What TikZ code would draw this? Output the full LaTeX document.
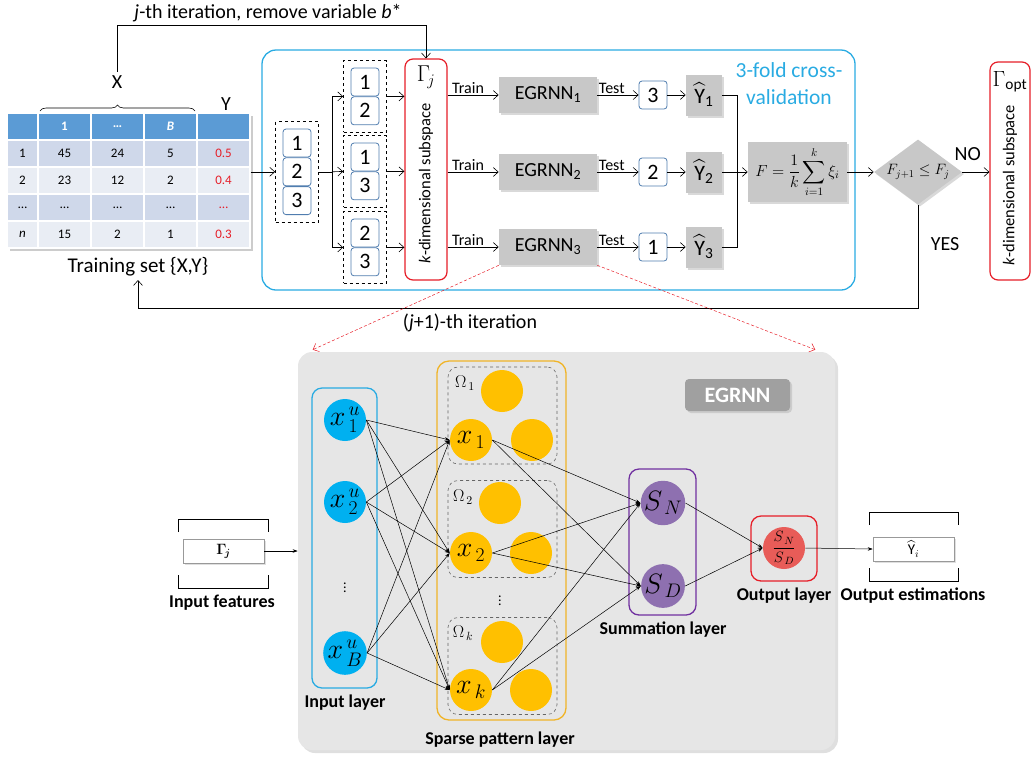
\RequirePackage{fix-cm}
\documentclass[tikz,border=0pt]{standalone}
\usepackage{amsmath}
\usepackage{amssymb}
\usepackage{bm}
\usepackage{fontspec}
\setmainfont{Carlito}
\usepackage{xcolor}
\usepackage{tikz}
\usetikzlibrary{shapes,arrows.meta,positioning,calc,fit,shadows,decorations.pathreplacing}

\definecolor{frameblue}{RGB}{41,171,226}
\definecolor{framered}{RGB}{230,30,40}
\definecolor{boxgray}{RGB}{200,200,200}
\definecolor{panelgray}{RGB}{230,230,230}
\definecolor{badgegray}{RGB}{160,160,160}
\definecolor{foldedge}{RGB}{80,125,175}
\definecolor{headblue}{RGB}{91,155,213}
\definecolor{rowdark}{RGB}{207,216,234}
\definecolor{rowlight}{RGB}{233,237,244}
\definecolor{valred}{RGB}{230,30,40}
\definecolor{nodecyan}{RGB}{0,176,240}
\definecolor{nodeyellow}{RGB}{255,192,0}
\definecolor{yellowedge}{RGB}{240,180,40}
\definecolor{nodepurple}{RGB}{142,112,176}
\definecolor{purpleedge}{RGB}{112,48,160}
\definecolor{nodered}{RGB}{232,92,88}

\newcommand{\fsz}[1]{\fontsize{#1}{#1}\selectfont}

\begin{document}
\begin{tikzpicture}[x=1pt, y=-1pt, >={Straight Barb[length=5pt,width=9pt]}, line width=0.6pt]
        \tikzset{
            tblcell/.style={draw=white, line width=1.2pt, minimum height=27, inner sep=0pt, font=\fsz{13}},
            foldnum/.style={draw=foldedge, fill=white, rounded corners=3pt, minimum width=28, minimum height=28, inner sep=0pt, line width=0.8pt, font=\fsz{22}},
            foldframe/.style={draw, dashed, line width=0.9pt, inner sep=7pt},
            subspace/.style={draw=framered, fill=white, rounded corners=8pt, line width=1.2pt, minimum width=42, minimum height=221},
            graybox/.style={fill=boxgray, inner sep=0pt, drop shadow={shadow xshift=2pt, shadow yshift=-2pt, opacity=0.3}},
            egrnn/.style={graybox, minimum width=98, minimum height=36, font=\fsz{20}},
            yhat/.style={graybox, minimum width=36, minimum height=41, font=\fsz{22}},
            lbl/.style={font=\fsz{16}, inner sep=1pt},
            bigtext/.style={font=\fsz{20}},
            rottext/.style={rotate=90, font=\fsz{16.5}},
            egpanel/.style={fill=panelgray, rounded corners=14pt, minimum width=537, minimum height=398, drop shadow={shadow xshift=3pt, shadow yshift=-3pt, opacity=0.25}},
            layerframe/.style={rounded corners=10pt, line width=1.3pt},
            neuron/.style={circle, minimum size=42, inner sep=0pt, font=\fsz{28}},
            omegabox/.style={draw=black!60, dashed, rounded corners=10pt, line width=0.6pt, minimum width=109, minimum height=97},
            omegalbl/.style={font=\fsz{17}, inner sep=0pt},
            estbox/.style={draw=black!40, fill=white, minimum width=81, minimum height=24, inner sep=0pt, font=\fsz{15}, drop shadow={shadow xshift=1.5pt, shadow yshift=-1.5pt, opacity=0.25}},
            netarrow/.style={-{Stealth[length=5pt,width=3.5pt]}, line width=0.5pt},
            zoomarrow/.style={->, draw=framered, densely dashed, line width=0.5pt},
            layerlbl/.style={font=\bfseries\fsz{18}}
        }
        \useasboundingbox (0,0) rectangle (1032,756);

        % Training table
        \fill[black!20] (10,116) rectangle (253,251);
        \foreach \col/\cx/\cw/\txt in {0/22.5/31/{}, 1/64.5/53/1, 2/117.5/53/\dots, 3/170.5/53/\textit{B}, 4/223.5/53/{}}
            \node[tblcell, fill=headblue, minimum width=\cw, text=white, font=\bfseries\fsz{13}] (th-\col) at (\cx,126.5) {\txt};
        \foreach \rr/\ry/\rc/\va/\vb/\vc/\vd/\ve in {1/153.5/rowdark/1/45/24/5/0.5, 2/180.5/rowlight/2/23/12/2/0.4, 3/207.5/rowdark/\dots/\dots/\dots/\dots/\dots, 4/234.5/rowlight/\textit{n}/15/2/1/0.3} {
            \node[tblcell, fill=\rc, minimum width=31] (t\rr-0) at (22.5,\ry) {\va};
            \node[tblcell, fill=\rc, minimum width=53] (t\rr-1) at (64.5,\ry) {\vb};
            \node[tblcell, fill=\rc, minimum width=53] (t\rr-2) at (117.5,\ry) {\vc};
            \node[tblcell, fill=\rc, minimum width=53] (t\rr-3) at (170.5,\ry) {\vd};
            \node[tblcell, fill=\rc, minimum width=53, text=valred] (t\rr-4) at (223.5,\ry) {\ve};
        }
        \node[bigtext] (itertitle) at (268,13) {\textit{j}-th iteration, remove variable \textit{b}*};
        \node[bigtext] (xlbl) at (117,82) {X};
        \node[bigtext] (ylbl) at (226,104) {Y};
        \draw[decorate, decoration={brace, amplitude=6pt}] (40,111) -- (195,111);
        \node[bigtext, font=\fsz{21}] (trainlbl) at (138,267) {Training set \{X,Y\}};

        % Cross-validation frame
        \node[draw=frameblue, rounded corners=14pt, line width=1.3pt, minimum width=593, minimum height=240] (cvframe) at (558.5,170) {};
        \node[text=frameblue, align=center, font=\fontsize{21.5}{27}\selectfont] (cvlbl) at (789,84) {3-fold cross-\\validation};

        % Folds
        \node[foldnum] (f1) at (297,143) {1};
        \node[foldnum, below=0pt of f1] (f2) {2};
        \node[foldnum, below=0pt of f2] (f3) {3};
        \node[foldframe, fit=(f1)(f3)] (fold) {};

        \node[foldnum] (a1) at (365,82) {1};
        \node[foldnum, below=0pt of a1] (a2) {2};
        \node[foldframe, fit=(a1)(a2)] (foldA) {};
        \node[foldnum] (b1) at (365,157) {1};
        \node[foldnum, below=0pt of b1] (b2) {3};
        \node[foldframe, fit=(b1)(b2)] (foldB) {};
        \node[foldnum] (c1) at (365,233) {2};
        \node[foldnum, below=0pt of c1] (c2) {3};
        \node[foldframe, fit=(c1)(c2)] (foldC) {};

        % Subspace
        \node[subspace] (gammaj) at (426,169.5) {};
        \node[font=\fsz{23}] (gammajlbl) at ($(gammaj.north)+(0,19)$) {$\Gamma_{\!j}$};
        \node[rottext] (gammajtxt) at ($(gammaj.center)+(0,14)$) {\textit{k}-dimensional subspace};

        % Models
        \node[egrnn] (eg1) at (548,95) {EGRNN\textsubscript{1}};
        \node[egrnn] (eg2) at (548,172) {EGRNN\textsubscript{2}};
        \node[egrnn] (eg3) at (548,247) {EGRNN\textsubscript{3}};
        \node[foldnum] (ts1) at (653,95) {3};
        \node[foldnum] (ts2) at (653,172) {2};
        \node[foldnum] (ts3) at (653,247) {1};
        \node[yhat] (yh1) at (704,95) {$\widehat{\text{Y}}_{\text{1}}$};
        \node[yhat] (yh2) at (704,172) {$\widehat{\text{Y}}_{\text{2}}$};
        \node[yhat] (yh3) at (704,247) {$\widehat{\text{Y}}_{\text{3}}$};
        \node[graybox, minimum width=99, minimum height=60, font=\fsz{16}] (fbox) at (797.5,172) {$\displaystyle F=\frac{1}{k}\sum_{i=1}^{k}\xi_i$};
        \node[diamond, fill=boxgray, aspect=1.35, minimum width=88, minimum height=65, inner sep=0pt, font=\fsz{15}, drop shadow={shadow xshift=2pt, shadow yshift=-2pt, opacity=0.3}] (dia) at (918,172) {$F_{j+1}\le F_j$};
        \node[subspace, minimum width=40, minimum height=218] (gopt) at (1010,171) {};
        \node[font=\fsz{22}] (goptlbl) at ($(gopt.north)+(0,20)$) {$\Gamma_{\mathrm{opt}}$};
        \node[rottext] (gopttxt) at ($(gopt.center)+(0,14)$) {\textit{k}-dimensional subspace};

        % Connections
        \draw[->] (xlbl.north) |- (itertitle.south -| gammaj.north) -- (gammaj.north);
        \draw[->] (fold.west -| t1-4.east) -- (fold.west);
        \coordinate[right=13pt of fold.east] (branch);
        \draw (fold.east) -- (branch);
        \draw[->] (branch) |- (foldA.west);
        \draw[->] (branch) -- (foldB.west);
        \draw[->] (branch) |- (foldC.west);
        \draw[->] (foldA.east) -- (foldA.east -| gammaj.west);
        \draw[->] (foldB.east) -- (foldB.east -| gammaj.west);
        \draw[->] (foldC.east) -- (foldC.east -| gammaj.west);

        \draw[->] (gammaj.east |- eg1.west) -- node[lbl, above, pos=0.4] {Train} (eg1.west);
        \draw[->] (gammaj.east |- eg2.west) -- node[lbl, above, pos=0.4] {Train} (eg2.west);
        \draw[->] (gammaj.east |- eg3.west) -- node[lbl, above, pos=0.4] {Train} (eg3.west);
        \draw[->] (eg1.east) -- node[lbl, above, pos=0.35] {Test} (ts1.west);
        \draw[->] (eg2.east) -- node[lbl, above, pos=0.35] {Test} (ts2.west);
        \draw[->] (eg3.east) -- node[lbl, above, pos=0.35] {Test} (ts3.west);
        \draw[->] (ts1.east) -- (yh1.west);
        \draw[->] (ts2.east) -- (yh2.west);
        \draw[->] (ts3.east) -- (yh3.west);

        \coordinate (collect) at (737,172);
        \draw (yh1.east) -| (collect);
        \draw (yh3.east) -| (collect);
        \draw (yh2.east) -- (collect);
        \draw[->] (collect) -- (fbox.west);
        \draw[->] (fbox.east) -- (dia.west);
        \draw[->] (dia.east) -- node[bigtext, above=8pt, pos=0.2] {NO} (dia.east -| gopt.west);
        \coordinate (loopy) at (138,308);
        \draw[->] (dia.south) |- (loopy) -- (trainlbl.south);
        \node[bigtext] (yeslbl) at (945,244) {YES};
        \node[bigtext] (looplbl) at (470,323) {(\textit{j}+1)-th iteration};

        % EGRNN network
        \node[egpanel] (egrnnbox) at (566.5,551) {};
        \node[fill=badgegray, rounded corners=4pt, minimum width=105, minimum height=32, text=white, font=\bfseries\fsz{22}, drop shadow={shadow xshift=2pt, shadow yshift=-2pt, opacity=0.25}] (badge) at (737.5,395) {EGRNN};
        \coordinate (zoomL) at ($(egrnnbox.north west)+(15,-2)$);
        \coordinate (zoomR) at ($(egrnnbox.north east)+(-20,-2)$);
        \draw[zoomarrow] (eg3.south west) -- (zoomL);
        \draw[zoomarrow] (eg3.south east) -- (zoomR);

        % Input features
        \node[estbox] (infeat) at (223.5,551) {$\bm{\Gamma_{\!j}}$};
        \draw (178,532) |- (268,519) -- (268,532);
        \draw (178,575) |- (268,588) -- (268,575);
        \node[layerlbl] (infeatlbl) at (222,603) {Input features};

        % Input layer
        \node[draw=frameblue, layerframe, minimum width=65, minimum height=300] (inlayer) at (344.5,538) {};
        \node[neuron, fill=nodecyan] (u1) at (345,420) {$x^{\,u}_{\,1}$};
        \node[neuron, fill=nodecyan] (u2) at (345,502) {$x^{\,u}_{\,2}$};
        \node[neuron, fill=nodecyan] (uB) at (345,653) {$x^{\,u}_{\,B}$};
        \node[font=\fsz{14}] (udots) at (345,585) {$\vdots$};
        \node[layerlbl] (inlayerlbl) at (345,703) {Input layer};

        % Sparse pattern layer
        \node[draw=yellowedge, layerframe, rounded corners=12pt, minimum width=129, minimum height=359] (patlayer) at (501.5,540.5) {};
        \node[omegabox] (om1) at (502.5,415.5) {};
        \node[omegabox] (om2) at (502.5,529) {};
        \node[omegabox] (omk) at (502.5,666) {};
        \node[neuron, fill=nodeyellow] (o1a) at (502,391) {};
        \node[neuron, fill=nodeyellow] (p1) at (471,440) {$x_{\,1}$};
        \node[neuron, fill=nodeyellow] (o1b) at (532,440) {};
        \node[neuron, fill=nodeyellow] (o2a) at (500,503) {};
        \node[neuron, fill=nodeyellow] (p2) at (471,553) {$x_{\,2}$};
        \node[neuron, fill=nodeyellow] (o2b) at (531,553) {};
        \node[neuron, fill=nodeyellow] (oka) at (502,642) {};
        \node[neuron, fill=nodeyellow] (pk) at (471,690) {$x_{\,k}$};
        \node[neuron, fill=nodeyellow] (okb) at (531,690) {};
        \node[omegalbl] (om1lbl) at (465,383) {$\Omega_{\,1}$};
        \node[omegalbl] (om2lbl) at (463,497) {$\Omega_{\,2}$};
        \node[omegalbl] (omklbl) at (463,633) {$\Omega_{\,k}$};
        \node[font=\fsz{14}] (pdots) at (500,598) {$\vdots$};
        \node[layerlbl] (patlbl) at (500,740) {Sparse pattern layer};

        % Summation and output layers
        \node[draw=purpleedge, layerframe, minimum width=67, minimum height=146] (sumlayer) at (662.5,542) {};
        \node[neuron, fill=nodepurple] (sn) at (663,503) {$S_{\,N}$};
        \node[neuron, fill=nodepurple] (sd) at (663,586) {$S_{\,D}$};
        \node[layerlbl] (sumlbl) at (663,630) {Summation layer};
        \node[draw=framered, layerframe, minimum width=66, minimum height=65] (outlayer) at (784,548.5) {};
        \node[neuron, fill=nodered, font=\fsz{15}] (outn) at (784,548) {$\dfrac{S_{\,N}}{S_{\,D}}$};
        \node[layerlbl] (outlbl) at (784,596) {Output layer};

        % Output estimations
        \node[estbox] (outest) at (913.5,549) {$\widehat{\text{Y}}_i$};
        \draw (869,525) |- (958,512) -- (958,525);
        \draw (869,568) |- (958,581) -- (958,568);
        \node[layerlbl] (outestlbl) at (913,596) {Output estimations};

        % Network connections
        \draw[netarrow] (infeat.east) -- (infeat.east -| egrnnbox.west);
        \foreach \s in {u1,u2,uB}
            \foreach \t in {p1,p2,pk}
                \draw[netarrow] (\s.east) -- (\t.west);
        \foreach \s in {p1,p2,pk}
            \foreach \t in {sn,sd}
                \draw[netarrow] (\s.east) -- (\t.west);
        \draw[netarrow] (sn.east) -- (outn.west);
        \draw[netarrow] (sd.east) -- (outn.west);
        \draw[netarrow] (outn.east) -- (outest.west);
\end{tikzpicture}
\end{document}
